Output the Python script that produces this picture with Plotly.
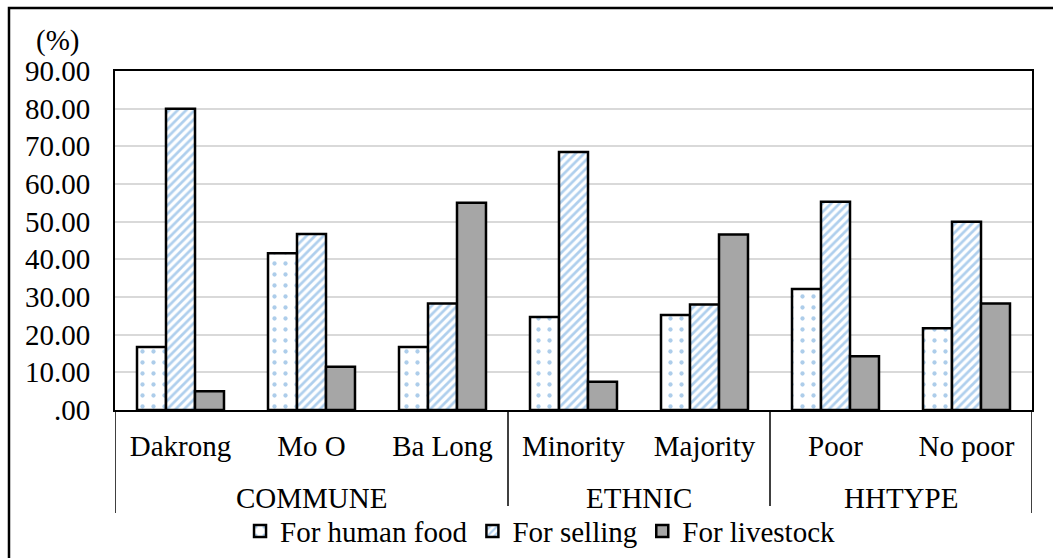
import plotly.graph_objects as go

categories = ["Dakrong", "Mo O", "Ba Long", "Minority", "Majority", "Poor", "No poor"]
group_names = ["COMMUNE", "ETHNIC", "HHTYPE"]
group_sizes = [3, 2, 2]

human_food = [16.7, 41.6, 16.7, 24.7, 25.2, 32.1, 21.7]
selling = [80.0, 46.7, 28.3, 68.5, 28.0, 55.3, 50.0]
livestock = [5.0, 11.5, 55.0, 7.5, 46.6, 14.3, 28.3]

ytick_vals = [0, 10, 20, 30, 40, 50, 60, 70, 80, 90]
ytick_text = [".00", "10.00", "20.00", "30.00", "40.00", "50.00",
              "60.00", "70.00", "80.00", "90.00"]

FONT = "Liberation Serif"
FS = 29
x = list(range(len(categories)))

fig = go.Figure()
fig.add_trace(go.Bar(
    x=x, y=human_food, name="For human food",
    marker=dict(color="white", line=dict(color="black", width=2.5),
                pattern=dict(shape=".", fgcolor="#5b9bd5", bgcolor="white",
                             size=11, solidity=0.12)),
))
fig.add_trace(go.Bar(
    x=x, y=selling, name="For selling",
    marker=dict(color="white", line=dict(color="black", width=2.5),
                pattern=dict(shape="/", fgcolor="#5f9fdc", bgcolor="white",
                             size=6, solidity=0.45)),
))
fig.add_trace(go.Bar(
    x=x, y=livestock, name="For livestock",
    marker=dict(color="#a6a6a6", line=dict(color="black", width=2.5)),
))

# group dividers below the category axis and the group captions
start = 0
edges = [-0.5]
for name, n in zip(group_names, group_sizes):
    center = start + (n - 1) / 2
    fig.add_annotation(text=name, x=center, xref="x", y=-0.26, yref="paper",
                       showarrow=False, yanchor="middle",
                       font=dict(family=FONT, size=FS, color="black"))
    start += n
    edges.append(start - 0.5)
for e in edges:
    fig.add_shape(type="line", xref="x", yref="paper", x0=e, x1=e, y0=0, y1=-0.304,
                  line=dict(color="black", width=1.5))

# outer frame around the whole chart
fig.add_shape(type="rect", xref="paper", yref="paper",
              x0=-0.1156, x1=1.2, y0=-0.6, y1=1.186,
              line=dict(color="black", width=2.5), fillcolor="rgba(0,0,0,0)",
              layer="above")

fig.add_annotation(text="(%)", xref="paper", yref="paper",
                   x=-0.063, y=1.09, showarrow=False, yanchor="middle",
                   xanchor="center",
                   font=dict(family=FONT, size=FS, color="black"))

fig.update_layout(
    width=1053, height=558,
    margin=dict(l=115, r=21, t=71, b=148, autoexpand=False),
    paper_bgcolor="white", plot_bgcolor="white",
    barmode="group", bargap=0.336, bargroupgap=0,
    font=dict(family=FONT, size=FS, color="black"),
    showlegend=True,
    legend=dict(orientation="h", x=0.4635, xanchor="center",
                yref="container", y=0.048, yanchor="middle",
                font=dict(family=FONT, size=FS, color="black"),
                itemwidth=30, traceorder="normal"),
    xaxis=dict(type="linear", range=[-0.5, 6.5], tickvals=x, ticktext=categories,
               showline=True, linecolor="black", linewidth=2,
               mirror=True, showgrid=False, zeroline=False, ticks="",
               ticklabelstandoff=9, automargin=False,
               tickfont=dict(family=FONT, size=FS)),
    yaxis=dict(range=[0, 90], tickvals=ytick_vals, ticktext=ytick_text,
               showline=True, linecolor="black", linewidth=2, mirror=True,
               showgrid=True, gridcolor="#d9d9d9", gridwidth=2, zeroline=False,
               ticks="", ticklabelstandoff=17, automargin=False,
               tickfont=dict(family=FONT, size=FS)),
)

fig.write_html("out.html")
